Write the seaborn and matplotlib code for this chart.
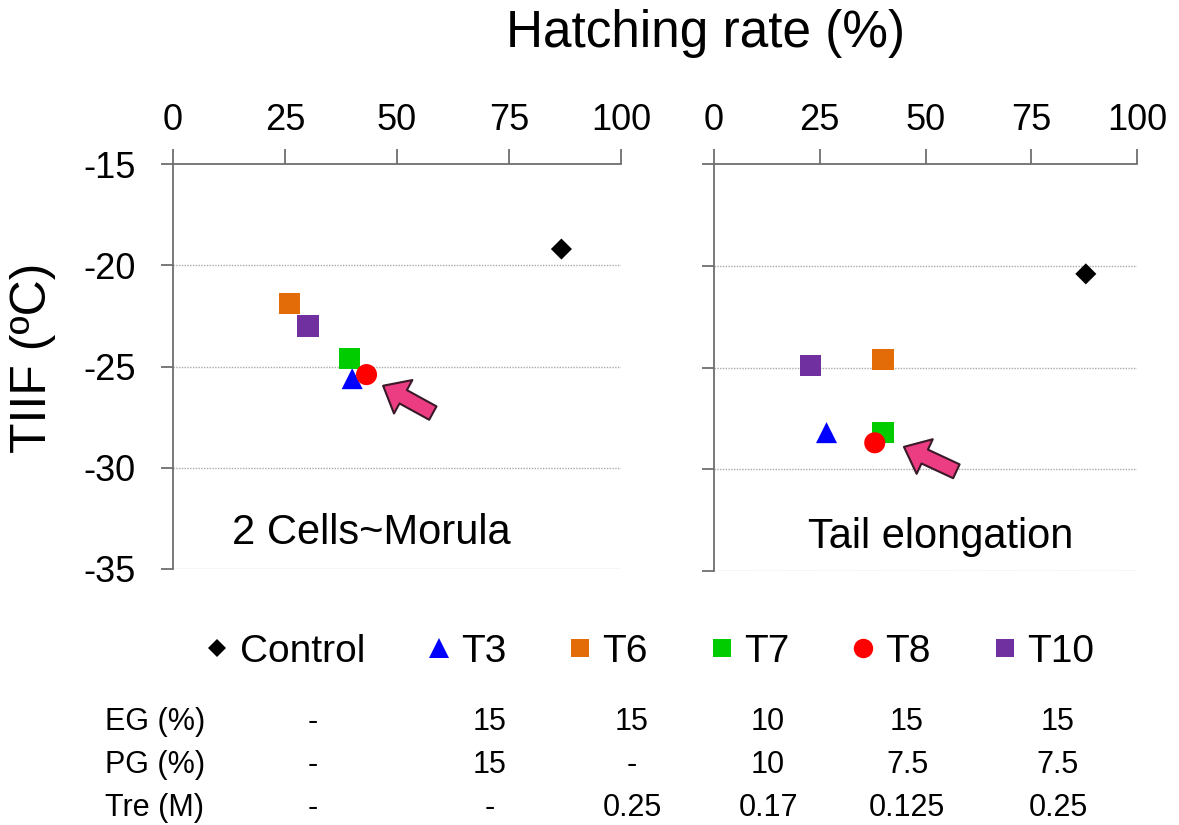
import matplotlib
matplotlib.use("Agg")
import matplotlib.pyplot as plt
import seaborn as sns
import pandas as pd

# ---------------- data ----------------
treatments = ["Control", "T3", "T6", "T7", "T8", "T10"]
hatch_morula = [86.7, 40.0, 26.0, 39.4, 43.2, 30.1]
tiif_morula = [-19.2, -25.6, -21.9, -24.6, -25.4, -23.0]
hatch_tail = [87.9, 26.6, 40.0, 40.0, 38.0, 22.8]
tiif_tail = [-20.4, -28.2, -24.6, -28.2, -28.7, -24.9]
panel_names = ["2 Cells~Morula", "Tail elongation"]
x_ticks = [0, 25, 50, 75, 100]
y_ticks = [-15, -20, -25, -30, -35]
row_labels = ["EG (%)", "PG (%)", "Tre (M)"]
eg_vals = ["-", "15", "15", "10", "15", "15"]
pg_vals = ["-", "15", "-", "10", "7.5", "7.5"]
tre_vals = ["-", "-", "0.25", "0.17", "0.125", "0.25"]
# arrows (tail -> head) in data coords
arrow_morula = [(58.0, -27.3), (46.9, -25.95)]
arrow_tail = [(57.3, -30.1), (44.9, -28.9)]

colors = {"Control": "#000000", "T3": "#0000FF", "T6": "#E36C09",
          "T7": "#00CC00", "T8": "#FF0000", "T10": "#7030A0"}
markers = {"Control": "D", "T3": "^", "T6": "s", "T7": "s", "T8": "o", "T10": "s"}
sizes = {"Control": 115, "T3": 230, "T6": 240, "T7": 240, "T8": 230, "T10": 240}
leg_sizes = {"Control": 9.5, "T3": 15, "T6": 13, "T7": 13, "T8": 14, "T10": 13}

sns.set_theme(style="white")
plt.rcParams["font.family"] = ["Liberation Sans", "DejaVu Sans"]
plt.rcParams["text.color"] = "black"
plt.rcParams["axes.labelcolor"] = "black"

fig = plt.figure(figsize=(11.79, 8.25), dpi=100)
ax1 = fig.add_axes([173 / 1179, 1 - 569 / 825, 448 / 1179, 405 / 825])
ax2 = fig.add_axes([714 / 1179, 1 - 571 / 825, 423 / 1179, 407 / 825])

spine_col = "#6E6E6E"
datasets = [(ax1, hatch_morula, tiif_morula, arrow_morula, (371, 533)),
            (ax2, hatch_tail, tiif_tail, arrow_tail, (941, 537))]
handles = {}
for i, (ax, hx, ty, arr, lab_pos) in enumerate(datasets):
    df = pd.DataFrame({"Hatching": hx, "TIIF": ty, "Treatment": treatments})
    for t in treatments:
        sub = df[df.Treatment == t]
        sns.scatterplot(data=sub, x="Hatching", y="TIIF", ax=ax,
                        color=colors[t], marker=markers[t], s=sizes[t],
                        edgecolor="none", linewidth=0, zorder=3, legend=False)
        if i == 0:
            handles[t] = plt.Line2D([], [], linestyle="none", marker=markers[t],
                                    color=colors[t], markeredgewidth=0,
                                    markersize=leg_sizes[t])
    ax.set_xlim(0, 100)
    ax.set_ylim(-35, -15)
    ax.set_xticks(x_ticks)
    ax.set_yticks(y_ticks)
    ax.xaxis.tick_top()
    ax.set_xlabel("")
    ax.set_ylabel("")
    for s in ["right", "bottom"]:
        ax.spines[s].set_visible(False)
    for s in ["top", "left"]:
        ax.spines[s].set_color(spine_col)
        ax.spines[s].set_linewidth(1.3)
    ax.tick_params(axis="x", which="both", top=True, bottom=False, direction="out",
                   length=11, width=1.3, color=spine_col, labelsize=26, pad=8,
                   labelcolor="black")
    ax.tick_params(axis="y", which="both", left=True, direction="out", length=9,
                   width=1.3, color=spine_col, labelsize=26, pad=18,
                   labelcolor="black")
    ax.set_yticklabels([str(v) for v in y_ticks])
    if i == 1:
        ax.tick_params(axis="y", labelleft=False)
    for yv in y_ticks[1:]:
        ax.axhline(yv, color="#AAAAAA", linestyle=(0, (1, 1)), linewidth=1.0, zorder=1)
    ax.grid(False)
    fig.text(lab_pos[0] / 1179, 1 - lab_pos[1] / 825, panel_names[i],
             ha="center", va="center", fontsize=30)
    ax.annotate("", xy=arr[1], xytext=arr[0],
                arrowprops=dict(arrowstyle="simple,head_length=0.75,head_width=1.25,tail_width=0.5",
                                fc="#EC3D83", ec="#3A1A28", lw=1.5,
                                mutation_scale=22, shrinkA=0, shrinkB=0),
                zorder=4)

fig.text(706 / 1179, 1 - 33 / 825, "Hatching rate (%)", ha="center", va="center",
         fontsize=37)
fig.text(33 / 1179, 1 - 358 / 825, "TIIF (ºC)", ha="center", va="center",
         rotation=90, fontsize=36)

leg = fig.legend([handles[t] for t in treatments], treatments, loc="center",
                 bbox_to_anchor=(648 / 1179, 1 - 652 / 825), ncol=6, frameon=False,
                 fontsize=28, handletextpad=0.17, columnspacing=1.5,
                 handlelength=0.8)

col_x = [313, 490, 632, 768, 907, 1058]
row_y = [722, 765, 808]
for r, (lab, vals) in enumerate(zip(row_labels, [eg_vals, pg_vals, tre_vals])):
    fig.text(105 / 1179, 1 - row_y[r] / 825, lab, ha="left", va="center", fontsize=22)
    for cx, v in zip(col_x, vals):
        fig.text(cx / 1179, 1 - row_y[r] / 825, v, ha="center", va="center", fontsize=22)

fig.savefig("out.png", dpi=100)
